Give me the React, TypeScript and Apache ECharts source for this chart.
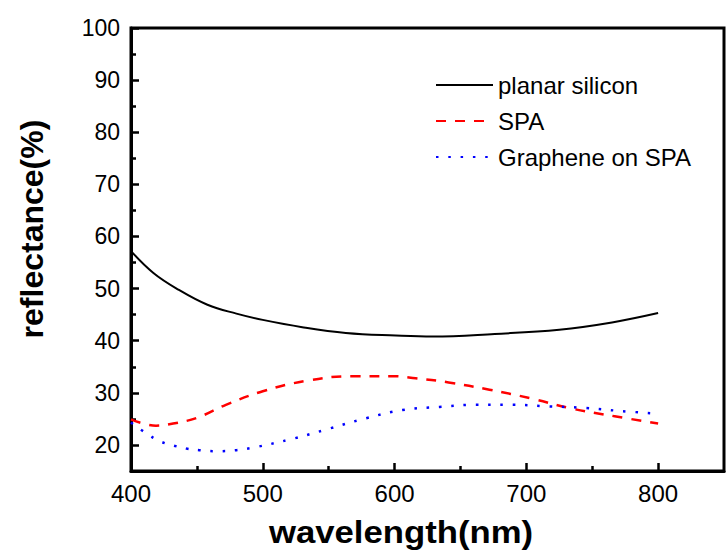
import React, { useEffect, useRef } from "react";
import * as echarts from "echarts";

const seriesNames = ["planar silicon", "SPA", "Graphene on SPA"];

const planarX = [400, 417, 436, 458, 480, 500, 530, 563, 601, 629, 676, 725, 765, 800];
const planarY = [57.2, 53.0, 49.8, 46.9, 45.2, 44.0, 42.6, 41.5, 41.0, 40.8, 41.3, 42.1, 43.5, 45.3];

const spaX = [400, 419, 432, 450, 472, 500, 533, 568, 598, 616, 641, 672, 704, 734, 767, 800];
const spaY = [24.9, 23.7, 24.1, 25.2, 27.7, 30.3, 32.3, 33.2, 33.2, 32.8, 32.0, 30.6, 28.9, 27.0, 25.5, 24.1];

const grX = [400, 413, 422, 432, 442, 452, 465, 480, 495, 523, 550, 578, 606, 634, 661, 689, 717, 745, 772, 800];
const grY = [24.3, 22.0, 20.7, 19.9, 19.3, 19.0, 18.8, 19.0, 19.6, 21.2, 23.1, 25.1, 26.7, 27.3, 27.7, 27.7, 27.4, 27.1, 26.5, 26.0];

const xMajor = [400, 500, 600, 700, 800];
const xMinor = [450, 550, 650, 750];
const yMajor = [20, 30, 40, 50, 60, 70, 80, 90, 100];
const yMinor = [25, 35, 45, 55, 65, 75, 85, 95];

const xTitle = "wavelength(nm)";
const yTitle = "reflectance(%)";

const zip = (xs: number[], ys: number[]) => xs.map((x, i) => [x, ys[i]]);

const FONT = "Liberation Sans, Arial, sans-serif";

export default function App() {
  const ref = useRef<HTMLDivElement>(null);
  useEffect(() => {
    if (!ref.current) return;
    const chart = echarts.init(ref.current, undefined, { renderer: "svg" });
    const tickStyle = { color: "#000", width: 2.5 };
    chart.setOption({
      animation: false,
      backgroundColor: "#fff",
      textStyle: { fontFamily: FONT },
      grid: {
        left: 131,
        right: 2,
        top: 28,
        bottom: 79,
        show: true,
        borderColor: "#000",
        borderWidth: 3,
      },
      legend: {
        orient: "vertical",
        left: 435,
        top: 73,
        padding: 0,
        itemWidth: 57,
        itemHeight: 2,
        itemGap: 12,
        data: seriesNames,
        itemStyle: { opacity: 0 },
        textStyle: { fontSize: 24, color: "#000", fontFamily: FONT, lineHeight: 22 },
      },
      xAxis: [
        {
          type: "value",
          min: 400,
          max: 850,
          splitLine: { show: false },
          axisLine: { show: true, lineStyle: { color: "#000", width: 3 } },
          axisTick: { show: true, inside: true, length: 8, lineStyle: tickStyle, customValues: xMajor },
          axisLabel: { color: "#000", fontSize: 24, margin: 10, fontFamily: FONT, customValues: xMajor },
        },
        {
          type: "value",
          min: 400,
          max: 850,
          position: "bottom",
          splitLine: { show: false },
          axisLine: { show: false },
          axisTick: { show: true, inside: true, length: 5, lineStyle: tickStyle, customValues: xMinor },
          axisLabel: { show: false },
        },
      ],
      yAxis: [
        {
          type: "value",
          min: 15,
          max: 100,
          splitLine: { show: false },
          axisLine: { show: true, lineStyle: { color: "#000", width: 3 } },
          axisTick: { show: true, inside: true, length: 8, lineStyle: tickStyle, customValues: yMajor },
          axisLabel: { color: "#000", fontSize: 23, margin: 11, fontFamily: FONT, customValues: yMajor },
        },
        {
          type: "value",
          min: 15,
          max: 100,
          position: "left",
          splitLine: { show: false },
          axisLine: { show: false },
          axisTick: { show: true, inside: true, length: 5, lineStyle: tickStyle, customValues: yMinor },
          axisLabel: { show: false },
        },
      ],
      series: [
        {
          name: seriesNames[0],
          type: "line",
          data: zip(planarX, planarY),
          smooth: 0.4,
          symbol: "none",
          lineStyle: { color: "#000", width: 2, type: "solid" },
          itemStyle: { color: "#000" },
        },
        {
          name: seriesNames[1],
          type: "line",
          data: zip(spaX, spaY),
          smooth: 0.4,
          symbol: "none",
          lineStyle: { color: "#ff0000", width: 2.5, type: [10, 9] },
          itemStyle: { color: "#ff0000" },
        },
        {
          name: seriesNames[2],
          type: "line",
          data: zip(grX, grY),
          smooth: 0.4,
          symbol: "none",
          lineStyle: { color: "#0000ff", width: 2.5, type: [2.5, 9.8] },
          itemStyle: { color: "#0000ff" },
        },
      ],
      graphic: [
        {
          type: "text",
          x: 401,
          y: 532,
          scaleX: 1.085,
          style: {
            text: xTitle,
            fontSize: 32,
            fontWeight: "bold",
            fontFamily: FONT,
            fill: "#000",
            textAlign: "center",
            textVerticalAlign: "middle",
          },
        },
        {
          type: "text",
          x: 32,
          y: 229,
          rotation: Math.PI / 2,
          style: {
            text: yTitle,
            fontSize: 32,
            fontWeight: "bold",
            fontFamily: FONT,
            fill: "#000",
            textAlign: "center",
            textVerticalAlign: "middle",
          },
        },
      ],
    });
    return () => chart.dispose();
  }, []);
  return (
    <div
      ref={ref}
      style={{ position: "fixed", left: 0, top: 0, width: 726, height: 550, background: "#fff" }}
    />
  );
}
